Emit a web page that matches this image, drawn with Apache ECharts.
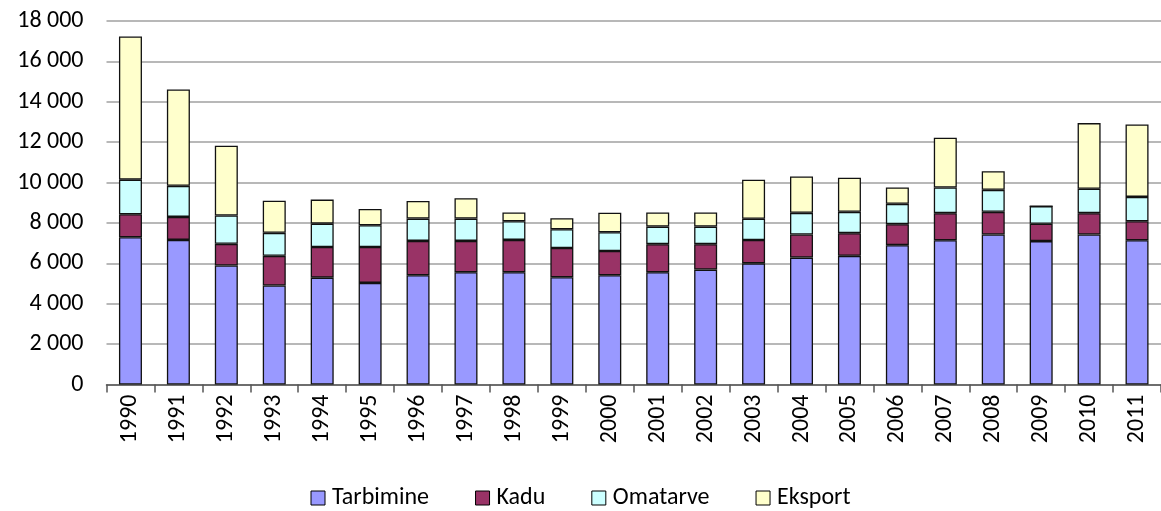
<!DOCTYPE html>
<html>
<head>
<meta charset="utf-8">
<script src="https://cdn.jsdelivr.net/npm/echarts@6/dist/echarts.min.js"></script>
<style>
  html, body { margin: 0; padding: 0; background: #fff; }
  #chart { width: 1161px; height: 511px; }
</style>
</head>
<body>
<div id="chart"></div>
<script>
// aastad
const years = ['1990', '1991', '1992', '1993', '1994', '1995', '1996', '1997', '1998', '1999', '2000',
               '2001', '2002', '2003', '2004', '2005', '2006', '2007', '2008', '2009', '2010', '2011'];

const tarbimine = [7290, 7160, 5890, 4900, 5290, 5030, 5410, 5560, 5560, 5310, 5410,
                   5560, 5690, 6000, 6285, 6370, 6900, 7145, 7425, 7100, 7425, 7145];
const kadu = [1140, 1140, 1075, 1470, 1520, 1780, 1700, 1550, 1600, 1450, 1200,
              1390, 1260, 1155, 1140, 1125, 1040, 1340, 1125, 860, 1060, 940];
const omatarve = [1715, 1536, 1403, 1140, 1155, 1075, 1105, 1105, 925, 925, 930,
                  870, 870, 1055, 1075, 1055, 1005, 1270, 1090, 875, 1205, 1205];
const eksport = [7086, 4772, 3454, 1586, 1190, 810, 877, 1010, 430, 545, 970,
                 695, 695, 1930, 1800, 1685, 810, 2460, 925, 0, 3255, 3585];

const font = 'Carlito, Lato, "Noto Sans", sans-serif';

function bar(name, data, color) {
    return {
        name: name,
        type: 'bar',
        stack: 'kokku',
        barWidth: 23,
        data: data,
        itemStyle: { color: color, borderColor: '#111', borderWidth: 1.3 }
    };
}

const myChart = echarts.init(document.getElementById('chart'));
const option = {
    animation: false,
    textStyle: { fontFamily: font },
    grid: { left: 106.5, right: -9, top: 21, bottom: 126.5 },
    legend: {
        top: 486,
        left: 'center',
        padding: 0,
        itemWidth: 14,
        itemHeight: 14,
        itemGap: 46,
        icon: 'rect',
        itemStyle: { borderColor: '#000', borderWidth: 1 },
        textStyle: { fontFamily: font, fontSize: 24, color: '#000', padding: [0, 0, 0, 2] },
        data: ['Tarbimine', 'Kadu', 'Omatarve', 'Eksport']
    },
    xAxis: {
        type: 'category',
        data: years,
        axisLine: { lineStyle: { color: '#555', width: 1.5 } },
        axisTick: { show: true, length: 8, lineStyle: { color: '#555', width: 1.5 } },
        axisLabel: {
            rotate: 90,
            margin: 10,
            fontFamily: font,
            fontSize: 24,
            color: '#000'
        }
    },
    yAxis: {
        type: 'value',
        min: 0,
        max: 18000,
        interval: 2000,
        axisLine: { show: false },
        axisTick: { show: false },
        splitLine: { lineStyle: { color: '#a0a0a0', width: 1.5 } },
        axisLabel: {
            margin: 23,
            fontFamily: font,
            fontSize: 24,
            color: '#000',
            formatter: function (v) {
                return String(v).replace(/\B(?=(\d{3})+(?!\d))/g, ' ');
            }
        }
    },
    series: [
        bar('Tarbimine', tarbimine, '#9999ff'),
        bar('Kadu', kadu, '#993366'),
        bar('Omatarve', omatarve, '#ccffff'),
        bar('Eksport', eksport, '#ffffcc')
    ]
};
myChart.setOption(option);
</script>
</body>
</html>
